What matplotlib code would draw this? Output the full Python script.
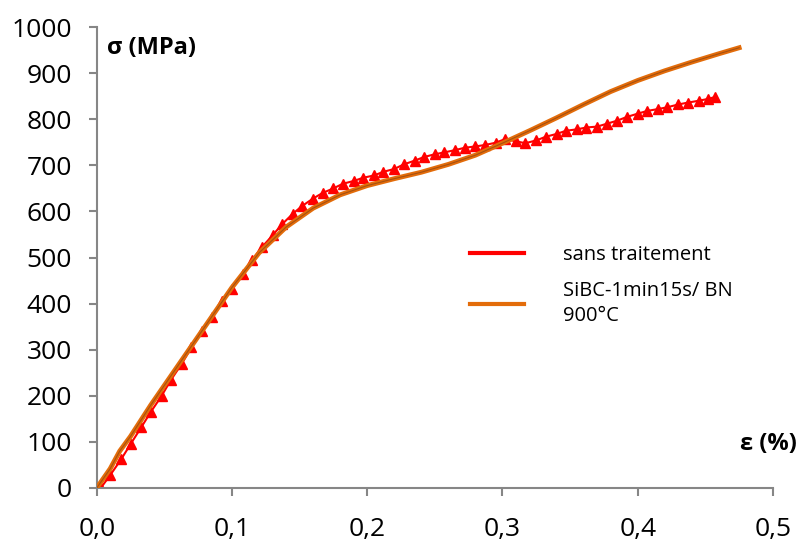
import matplotlib.pyplot as plt
from matplotlib.lines import Line2D
from matplotlib.ticker import FuncFormatter

plt.rcParams['font.family'] = ['Open Sans', 'DejaVu Sans']

# sans traitement (red triangles)
eps_ref = [0.003, 0.010, 0.018, 0.025, 0.033, 0.040, 0.048, 0.055, 0.063, 0.070,
           0.078, 0.085, 0.093, 0.100, 0.108, 0.115, 0.122, 0.130, 0.137, 0.145,
           0.152, 0.160, 0.167, 0.175, 0.182, 0.190, 0.197, 0.205, 0.212, 0.220,
           0.227, 0.235, 0.242, 0.250, 0.257, 0.265, 0.272, 0.280, 0.287, 0.295,
           0.302, 0.310, 0.317, 0.325, 0.332, 0.340, 0.347, 0.355, 0.362, 0.370,
           0.377, 0.385, 0.392, 0.400, 0.407, 0.415, 0.422, 0.430, 0.437, 0.445,
           0.452, 0.457]
sig_ref = [0, 28, 62, 95, 132, 165, 200, 235, 270, 305,
           340, 372, 405, 432, 465, 495, 522, 548, 572, 595,
           612, 628, 640, 650, 660, 666, 673, 678, 686, 692,
           702, 710, 718, 724, 728, 733, 738, 741, 744, 749,
           757, 752, 748, 754, 762, 768, 775, 778, 782, 784,
           790, 797, 805, 812, 818, 822, 826, 832, 836, 840,
           844, 848]

# SiBC-1min15s/ BN 900°C (orange)
eps_bn = [0.0, 0.010, 0.017, 0.025, 0.040, 0.060, 0.080, 0.100, 0.120, 0.140,
          0.160, 0.180, 0.200, 0.220, 0.240, 0.260, 0.280, 0.300, 0.320, 0.340,
          0.360, 0.380, 0.400, 0.420, 0.440, 0.460, 0.475]
sig_bn = [0, 42, 80, 112, 180, 265, 350, 435, 510, 566,
          607, 636, 656, 671, 685, 702, 722, 748, 775, 803,
          832, 860, 884, 905, 924, 942, 955]

xticks = [0.0, 0.1, 0.2, 0.3, 0.4, 0.5]
yticks = list(range(0, 1001, 100))

fig = plt.figure(figsize=(8.06, 5.48), dpi=100)
ax = fig.add_axes([0.120, 0.1095, 0.839, 0.8412])

red = '#ff0000'
orange = '#e36c0a'

ax.plot(eps_ref, sig_ref, color=red, lw=1.5, marker='^', ms=7, mec=red, mfc=red, zorder=2)
ax.plot(eps_bn, sig_bn, color=orange, lw=3.5, zorder=3)
ax.plot(eps_bn, sig_bn, color='#8b4513', lw=0.8, alpha=0.7, zorder=4)

ax.set_xlim(0, 0.5)
ax.set_ylim(0, 1000)
ax.set_xticks(xticks)
ax.set_yticks(yticks)
ax.xaxis.set_major_formatter(FuncFormatter(lambda v, p: f'{v:.1f}'.replace('.', ',')))

for s in ['top', 'right']:
    ax.spines[s].set_visible(False)
for s in ['left', 'bottom']:
    ax.spines[s].set_color('#868686')
    ax.spines[s].set_linewidth(1.5)

ax.tick_params(axis='both', colors='#868686', width=1.5, length=6, labelsize=19, labelcolor='black')
ax.tick_params(axis='x', pad=15)
ax.tick_params(axis='y', pad=12)

ax.text(0.015, 0.955, 'σ (MPa)', transform=ax.transAxes, fontsize=17, fontweight='bold', va='center')
ax.text(1.035, 0.095, 'ε (%)', transform=ax.transAxes, fontsize=17, fontweight='bold', va='center', ha='right')

handles = [Line2D([], [], color=red, lw=3), Line2D([], [], color=orange, lw=3)]
leg = ax.legend(handles, ['sans traitement', 'SiBC-1min15s/ BN\n900°C'], loc='upper left',
                bbox_to_anchor=(0.525, 0.567), frameon=False, fontsize=14.5,
                handlelength=2.7, handletextpad=1.9, labelspacing=0.8)
for t in leg.get_texts():
    t.set_linespacing(1.35)

fig.savefig('out.png', dpi=100)
